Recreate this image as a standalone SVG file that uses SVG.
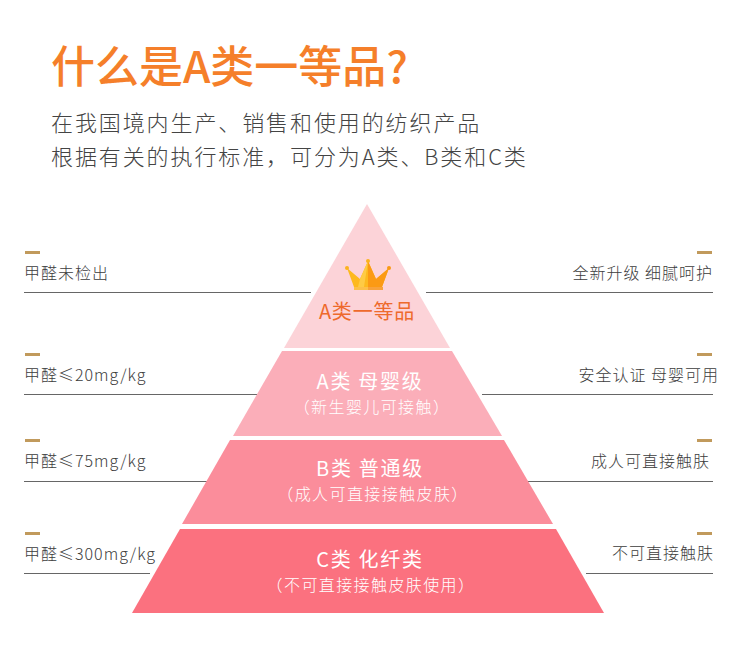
<svg xmlns="http://www.w3.org/2000/svg" width="750" height="656" viewBox="0 0 750 656">
<style>
text{font-family:"Noto Sans CJK SC","Noto Sans",sans-serif}
.side{font-size:16px;fill:#3c3c3c;font-weight:300;letter-spacing:1px}
.e{text-anchor:end}
.t{font-size:20px;fill:#fff;text-anchor:middle;letter-spacing:1.7px}
.s{font-size:16px;fill:#fff;text-anchor:middle;font-weight:300;letter-spacing:1.4px}
.rule{stroke:#666;stroke-width:1;fill:none}
.tick{fill:#c19a5c}
.sub{font-size:22px;fill:#444;font-weight:300;letter-spacing:1.9px}
</style>
<rect width="750" height="656" fill="#fff"/>
<g id="title">
<text x="51" y="83" font-size="44" fill="#f57f2a" font-weight="500">什么是A类一等品?</text>
<text x="51" y="131" class="sub">在我国境内生产、销售和使用的纺织产品</text>
<text x="51" y="165" class="sub">根据有关的执行标准，可分为A类、B类和C类</text>
</g>
<g id="connectors">
<path class="rule" d="M24 292.500H311M426 292.500H713M24 394.500H257M482 394.500H713M24 481.500H209M528 481.500H713M24 573.500H150M586 573.500H713"/>
<rect class="tick" x="25" y="251" width="15" height="3"/><rect class="tick" x="697" y="251" width="15" height="3"/>
<rect class="tick" x="25" y="353" width="15" height="3"/><rect class="tick" x="697" y="353" width="15" height="3"/>
<rect class="tick" x="25" y="439" width="15" height="3"/><rect class="tick" x="697" y="439" width="15" height="3"/>
<rect class="tick" x="25" y="532" width="15" height="3"/><rect class="tick" x="697" y="532" width="15" height="3"/>
</g>
<g id="tier-top">
<polygon points="367,204 450,348 284,348" fill="#fcd3d8"/>
<polygon points="347,268 360,279 368,261 376,279 389,268 382,287 354,287" fill="#fdb91f"/>
<polygon points="368,261 376,279 389,268 382,287 368,287" fill="#fb9a14"/>
<polygon points="368,261 360,279 358,287 364,287" fill="#fecb45"/>
<rect x="354" y="287" width="14" height="3" fill="#fdc04a"/><rect x="368" y="287" width="15" height="3" fill="#f9a23a"/>
<circle cx="347" cy="268" r="2" fill="#fbb31d"/><circle cx="368" cy="261" r="2" fill="#fbb31d"/><circle cx="389" cy="268" r="2" fill="#f99a14"/>
<text x="367" y="319" font-size="20" fill="#ee6a2c" text-anchor="middle" letter-spacing=".8">A类一等品</text>
</g>
<g id="tier-a">
<polygon points="282,351 452,351 502,436 233,436" fill="#fbaeb9"/>
<text x="370" y="389" class="t">A类 母婴级</text>
<text x="372" y="413" class="s">（新生婴儿可接触）</text>
</g>
<g id="tier-b">
<polygon points="230,440 504,440 553,524 182,524" fill="#fb8d9b"/>
<text x="370" y="476" class="t">B类 普通级</text>
<text x="373" y="500" class="s">（成人可直接接触皮肤）</text>
</g>
<g id="tier-c">
<polygon points="180,529 556,529 604,613 132,613" fill="#fb717f"/>
<text x="370" y="567" class="t">C类 化纤类</text>
<text x="371" y="591" class="s">（不可直接接触皮肤使用）</text>
</g>
<g id="labels-left">
<text x="24" y="279" class="side">甲醛未检出</text>
<text x="24" y="381" class="side">甲醛≤20mg/kg</text>
<text x="24" y="467" class="side">甲醛≤75mg/kg</text>
<text x="24" y="560" class="side">甲醛≤300mg/kg</text>
</g>
<g id="labels-right">
<text x="713" y="279" class="side e">全新升级 细腻呵护</text>
<text x="719" y="381" class="side e">安全认证 母婴可用</text>
<text x="710" y="467" class="side e">成人可直接触肤</text>
<text x="714" y="559" class="side e">不可直接触肤</text>
</g>
</svg>
